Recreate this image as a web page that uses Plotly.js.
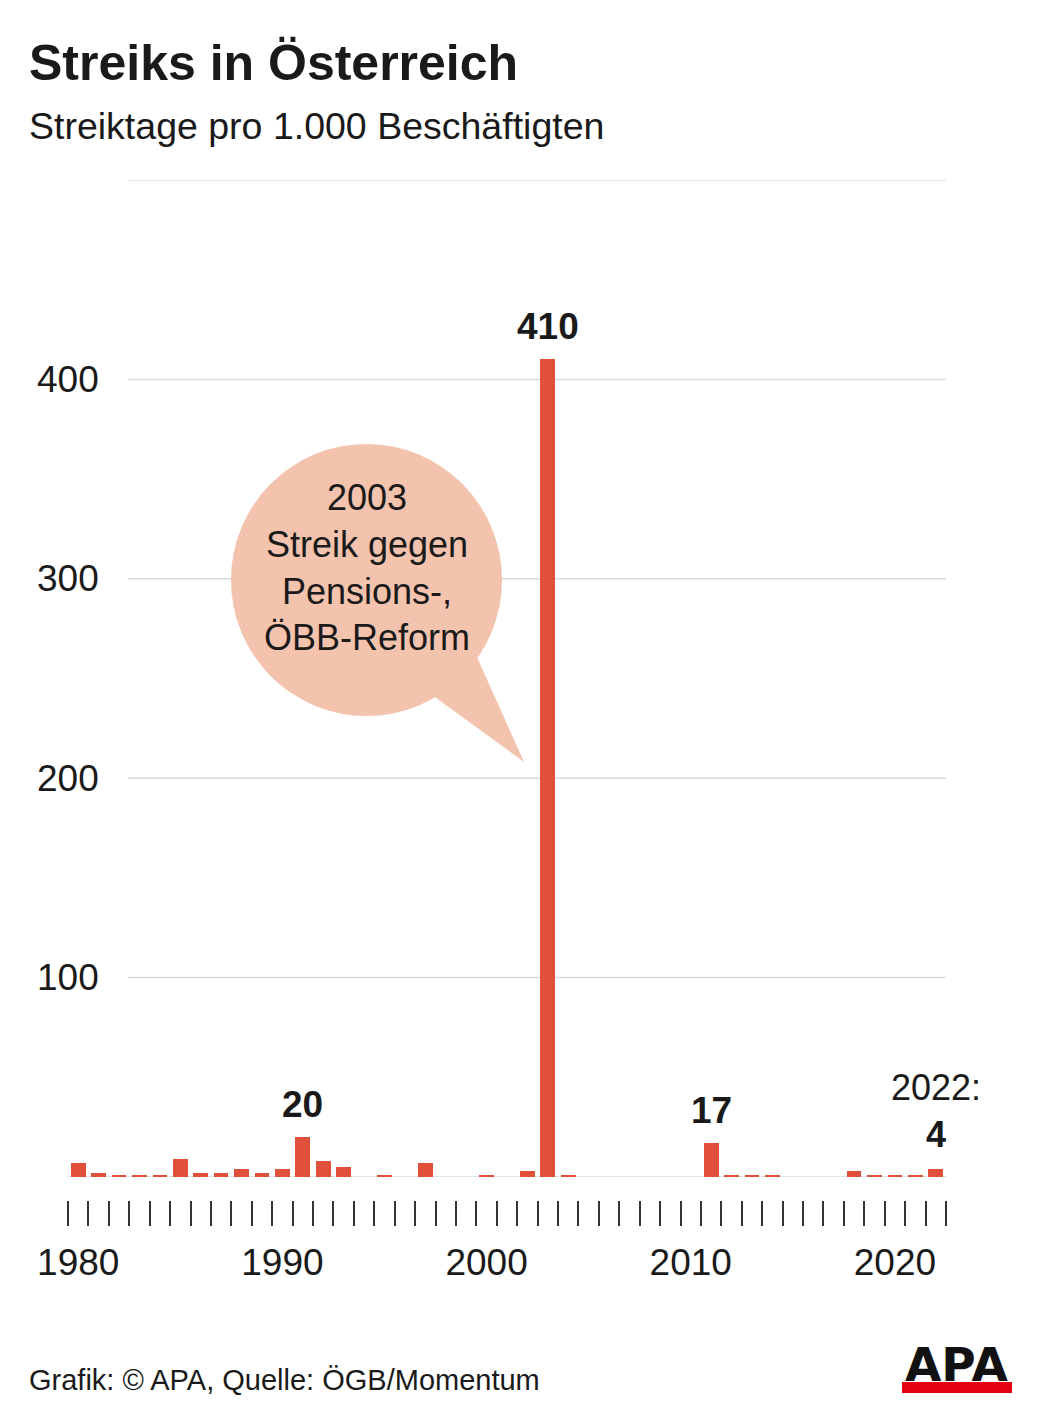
<!DOCTYPE html>
<html>
<head>
<meta charset="utf-8">
<script src="https://cdn.plot.ly/plotly-3.0.1.min.js"></script>
<style>
html,body{margin:0;padding:0;background:#fff;}
#chart{width:1041px;height:1418px;}
</style>
</head>
<body>
<div id="chart"></div>
<script>
// ---- data ----
const years = [1980,1981,1982,1983,1984,1985,1986,1987,1988,1989,
               1990,1991,1992,1993,1994,1995,1996,1997,1998,1999,
               2000,2001,2002,2003,2004,2005,2006,2007,2008,2009,
               2010,2011,2012,2013,2014,2015,2016,2017,2018,2019,
               2020,2021,2022];
const strikeDays = [7,2,1,1,1,9,2,2,4,2,
                    4,20,8,5,0,1,0,7,0,0,
                    1,0,3,410,1,0,0,0,0,0,
                    0,17,1,1,1,0,0,0,3,1,
                    1,1,4];
const labelledYears = [1991, 2003, 2011];
const lastYear = 2022;
const xTickYears = [1980, 1990, 2000, 2010, 2020];
const yTickVals = [100, 200, 300, 400];
const yGridVals = [100, 200, 300, 400, 500];
const titleText = "Streiks in Österreich";
const subtitleText = "Streiktage pro 1.000 Beschäftigten";
const sourceText = "Grafik: © APA, Quelle: ÖGB/Momentum";
const bubbleLines = ["2003", "Streik gegen", "Pensions-,", "ÖBB-Reform"];

// ---- layout geometry ----
const W = 1041, H = 1418;
const M = {l: 68, r: 95, t: 180, b: 218};
const plotW = W - M.l - M.r, plotH = H - M.t - M.b;
const pxX = px => (px - M.l) / plotW;
const pxY = py => (H - M.b - py) / plotH;

const FONT = "'Liberation Sans', Arial, Helvetica, sans-serif";
const TXT = "#1a1a1a";
const BAR = "#E1503A";
const BUBBLE = "#F4C3AD";
const GRID = "#d9d9d9";

const valueOf = y => strikeDays[years.indexOf(y)];

const boundaries = years.map(y => y - 0.5).concat([years[years.length - 1] + 0.5]);

const trace = {
  type: "bar",
  x: years,
  y: strikeDays,
  width: 0.72,
  marker: {color: BAR, line: {width: 0}},
  hoverinfo: "skip"
};

const shapes = [];
// zero line
shapes.push({type: "line", xref: "paper", yref: "y", x0: 0, x1: 1, y0: 0, y1: 0,
  line: {color: GRID, width: 1.5}, layer: "below"});
yGridVals.forEach(v => shapes.push({type: "line", xref: "paper", yref: "y",
  x0: pxX(128), x1: 1, y0: v, y1: v, line: {color: GRID, width: 1.5}, layer: "below"}));
// speech bubble
shapes.push({type: "circle", xref: "paper", yref: "paper",
  x0: pxX(231), x1: pxX(502), y0: pxY(716), y1: pxY(444),
  fillcolor: BUBBLE, line: {width: 0}, layer: "above"});
const tail = [[428, 692], [476, 655], [524, 762]];
shapes.push({type: "path", xref: "paper", yref: "paper",
  path: "M " + tail.map(p => pxX(p[0]) + "," + pxY(p[1])).join(" L ") + " Z",
  fillcolor: BUBBLE, line: {width: 0}, layer: "above"});
// APA logo bar
shapes.push({type: "rect", xref: "paper", yref: "paper",
  x0: pxX(902), x1: pxX(1012), y0: pxY(1393), y1: pxY(1382),
  fillcolor: "#E3000F", line: {width: 0}, layer: "above"});

const annotations = [];
annotations.push({xref: "paper", yref: "paper", x: pxX(27), y: pxY(63),
  xanchor: "left", yanchor: "middle", showarrow: false,
  text: "<b>" + titleText + "</b>", font: {family: FONT, size: 50, color: TXT}});
annotations.push({xref: "paper", yref: "paper", x: pxX(27), y: pxY(126),
  xanchor: "left", yanchor: "middle", showarrow: false,
  text: subtitleText, font: {family: FONT, size: 37.5, color: TXT}});
annotations.push({xref: "paper", yref: "paper", x: pxX(27), y: pxY(1380),
  xanchor: "left", yanchor: "middle", showarrow: false,
  text: sourceText, font: {family: FONT, size: 29, color: TXT}});
annotations.push({xref: "paper", yref: "paper", x: pxX(957), y: pxY(1364),
  xanchor: "center", yanchor: "middle", showarrow: false,
  text: "<b>APA</b>", font: {family: "'DejaVu Sans', sans-serif", size: 47, color: "#111"}});
// y tick labels
yTickVals.forEach(v => annotations.push({xref: "paper", yref: "y", x: pxX(101), y: v,
  xanchor: "right", yanchor: "middle", showarrow: false, text: String(v),
  font: {family: FONT, size: 37, color: TXT}}));
// value labels
labelledYears.forEach(y => annotations.push({xref: "x", yref: "y", x: y, y: valueOf(y),
  xanchor: "center", yanchor: "bottom", yshift: 10, showarrow: false,
  text: "<b>" + valueOf(y) + "</b>", font: {family: FONT, size: 37, color: TXT}}));
annotations.push({xref: "x", yref: "y", x: lastYear, y: valueOf(lastYear),
  xanchor: "center", yanchor: "bottom", yshift: 12, showarrow: false,
  text: lastYear + ":<br><b>" + valueOf(lastYear) + "</b>",
  font: {family: FONT, size: 36, color: TXT}});
// bubble text
annotations.push({xref: "paper", yref: "paper", x: pxX(367), y: pxY(567),
  xanchor: "center", yanchor: "middle", showarrow: false,
  text: bubbleLines.join("<br>"), font: {family: FONT, size: 36, color: TXT}});

const layout = {
  width: W, height: H,
  margin: M,
  paper_bgcolor: "#fff", plot_bgcolor: "rgba(0,0,0,0)",
  showlegend: false,
  bargap: 0,
  xaxis: {
    range: [years[0] - 0.5, years[years.length - 1] + 0.5],
    anchor: "free", position: 0,
    showgrid: false, zeroline: false, showline: false,
    tickmode: "array", tickvals: xTickYears, ticktext: xTickYears.map(String),
    ticks: "outside", ticklen: 25, tickcolor: "rgba(0,0,0,0)",
    ticklabelstandoff: 5,
    tickfont: {family: FONT, size: 37, color: TXT},
    minor: {tickmode: "array", tickvals: boundaries, ticks: "outside",
            ticklen: 25, tickwidth: 2, tickcolor: "#333"},
    fixedrange: true
  },
  yaxis: {
    range: [0, 500],
    domain: [23 / plotH, 1],
    showgrid: false, zeroline: false, showline: false,
    showticklabels: false, ticks: "",
    fixedrange: true
  },
  shapes: shapes,
  annotations: annotations,
  font: {family: FONT, color: TXT}
};

Plotly.newPlot("chart", [trace], layout, {displayModeBar: false, staticPlot: true});
</script>
</body>
</html>
